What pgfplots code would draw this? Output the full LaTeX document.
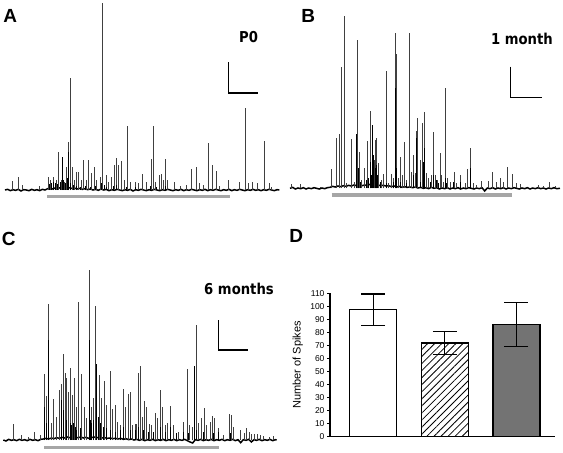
\documentclass[border=0pt]{standalone}
\usepackage{pgfplots}
\pgfplotsset{compat=1.18}
\usetikzlibrary{patterns.meta}
\usepackage{fontspec}
\setmainfont{Liberation Sans}
\newfontfamily\vfont[FakeStretch=0.88]{DejaVu Sans}
\definecolor{bargray}{RGB}{115,115,115}
\definecolor{stimgray}{RGB}{166,166,166}
\newcommand{\panelfont}{\bfseries\fontsize{19}{22}\selectfont}
\newcommand{\condfont}{\vfont\bfseries\fontsize{15}{18}\selectfont}
\pgfplotsset{
  trace/.style={scale only axis, hide axis, clip=false},
  thin spike/.style={ycomb, black!75, line width=0.55pt, mark=none},
  thick spike/.style={ycomb, black, line width=0.9pt, mark=none},
  baseline/.style={black, line width=1.5pt, mark=none},
}
\begin{document}
\begin{tikzpicture}
%% ---------------- Panel A ----------------
\begin{axis}[trace, at={(0pt,-200pt)}, anchor=south west,
  width=280pt, height=200pt, xmin=0, xmax=840, ymin=-30, ymax=570]
\addplot[baseline] coordinates {(15,0)(23,2)(31,-2)(39,1)(47,-1)(55,2)(63,-3)(71,1)(79,0)(87,-2)(95,2)(103,-1)(111,1)(119,-2)(127,2)(135,0)(143,4)(151,6)(159,3)(167,7)(175,5)(183,8)(191,6)(199,9)(207,7)(215,5)(223,6)(231,3)(239,5)(247,2)(255,4)(263,1)(271,3)(279,0)(287,2)(295,-1)(303,3)(311,0)(319,2)(327,-2)(335,1)(343,-1)(351,2)(359,0)(367,-2)(375,1)(383,-1)(391,2)(399,-3)(407,1)(415,-1)(423,2)(431,0)(439,-2)(447,1)(455,-1)(463,2)(471,0)(479,-2)(487,1)(495,-1)(503,2)(511,0)(519,-2)(527,1)(535,-1)(543,2)(551,-2)(559,1)(567,-1)(575,2)(583,0)(591,-2)(599,1)(607,-1)(615,2)(623,-2)(631,1)(639,-1)(647,2)(655,0)(663,-2)(671,1)(679,-1)(687,2)(695,-2)(703,1)(711,-1)(719,2)(727,0)(735,-2)(743,1)(751,-1)(759,2)(767,-1)(775,1)(783,-2)(791,1)(799,-1)(807,2)(815,0)(823,-2)(831,1)(838,0)};
\addplot[thin spike] coordinates {(38,27)(55,40)(68,15)(118,12)(145,40)(150,30)(160,40)(168,30)(175,113)(183,30)(193,25)(200,70)(205,145)(210,337)(217,70)(222,30)(230,55)(236,55)(243,30)(250,90)(258,30)(266,90)(275,50)(283,68)(290,30)(300,40)(308,560)(318,45)(325,25)(333,40)(342,75)(348,95)(355,75)(363,87)(373,30)(382,193)(390,25)(407,25)(414,22)(428,48)(440,25)(453,93)(459,192)(466,25)(478,45)(483,48)(490,30)(497,92)(503,30)(524,25)(540,12)(560,15)(575,63)(590,68)(598,22)(610,15)(625,140)(637,75)(648,58)(658,12)(685,30)(718,25)(735,247)(745,20)(758,23)(772,20)(792,147)(808,20)(815,10)};
\addplot[thick spike] coordinates {(187,98)(205,113)(160,25)(148,18)(155,20)(165,22)(172,18)(180,25)(190,30)(197,22)(203,35)(212,20)(220,15)(228,12)(240,10)(255,12)(270,10)(285,12)(305,20)(312,15)(320,10)(340,12)(350,15)(380,10)(405,10)(450,12)(470,10)(495,12)};
\draw[stimgray, line width=3.2pt] (axis cs:141,-20) -- (axis cs:690,-20);
\draw[black, line width=1.3pt] (axis cs:685,384) -- (axis cs:685,291) -- (axis cs:775,291);
\node[font=\panelfont] at (axis cs:31,521) {A};
\node[font=\condfont] at (axis cs:746,458) {P0};
\end{axis}
%% ---------------- Panel B ----------------
\begin{axis}[trace, at={(280pt,-200pt)}, anchor=south west,
  width=283pt, height=200pt, xmin=0, xmax=849, ymin=-35, ymax=565]
\addplot[baseline] coordinates {(30,0)(38,3)(46,-2)(54,1)(62,-1)(70,2)(78,-2)(86,1)(94,-1)(102,2)(110,0)(118,-2)(126,1)(134,-1)(142,2)(150,3)(158,6)(166,4)(174,7)(182,5)(190,8)(198,6)(206,9)(214,7)(222,10)(230,8)(238,11)(246,8)(254,10)(262,9)(270,12)(278,10)(286,13)(294,10)(302,8)(310,9)(318,7)(326,8)(334,5)(342,7)(350,4)(358,6)(366,3)(374,5)(382,3)(390,4)(398,2)(406,4)(414,1)(422,3)(430,0)(438,2)(446,-1)(454,3)(462,0)(470,2)(478,-2)(486,1)(494,-1)(502,2)(510,-2)(518,1)(526,-1)(534,2)(542,-2)(550,1)(558,-1)(566,2)(574,0)(582,-2)(590,1)(598,-1)(606,2)(614,-8)(622,1)(630,-1)(638,2)(646,-2)(654,1)(662,-1)(670,2)(678,-2)(686,1)(694,-1)(702,2)(710,0)(718,-2)(726,1)(734,-1)(742,2)(750,-2)(758,1)(766,-1)(774,2)(782,-1)(790,1)(798,-2)(806,1)(814,-1)(822,2)(830,-1)(840,0)};
\addplot[thin spike] coordinates {(35,12)(62,12)(120,5)(155,57)(168,152)(178,162)(185,363)(193,517)(200,17)(213,147)(222,20)(233,445)(238,110)(245,25)(253,60)(263,142)(271,232)(283,85)(287,145)(290,150)(296,75)(305,25)(310,43)(318,352)(325,17)(333,42)(340,30)(346,465)(350,402)(355,30)(362,95)(368,40)(373,138)(380,25)(388,467)(393,50)(400,100)(405,45)(410,172)(413,212)(420,85)(428,197)(433,230)(438,45)(445,30)(455,40)(461,170)(467,40)(473,25)(480,105)(485,40)(490,20)(497,302)(503,30)(510,20)(522,50)(530,15)(540,40)(555,17)(563,57)(572,120)(580,17)(590,10)(603,22)(625,22)(636,50)(648,20)(660,32)(670,20)(681,65)(697,43)(710,17)(722,12)(745,5)(775,10)(790,8)(808,20)(825,7)};
\addplot[thick spike] coordinates {(230,162)(277,190)(346,300)(410,150)(433,120)(270,80)(280,100)(288,70)(275,40)(285,60)(292,40)(265,30)(258,25)(235,60)(228,40)(350,60)(400,40)(430,80)(460,40)(470,25)(495,30)(520,20)(572,60)(540,20)(240,20)(300,20)(320,15)(340,20)(360,20)(380,15)(420,20)(450,20)(475,15)(500,15)};
\draw[stimgray, line width=3.2pt] (axis cs:155,-20) -- (axis cs:695,-20);
\draw[black, line width=1.3pt] (axis cs:692,365) -- (axis cs:692,272) -- (axis cs:785,272);
\node[font=\panelfont] at (axis cs:85,518) {B};
\node[font=\condfont] at (axis cs:726,447) {1 month};
\end{axis}
%% ---------------- Panel C ----------------
\begin{axis}[trace, at={(0pt,-453pt)}, anchor=south west,
  width=290pt, height=228pt, xmin=0, xmax=870, ymin=-39, ymax=645]
\addplot[baseline] coordinates {(10,0)(18,-3)(26,2)(34,-1)(42,1)(50,-2)(58,2)(66,-1)(74,1)(82,-2)(90,2)(98,-1)(106,1)(114,-2)(122,2)(130,3)(138,5)(146,3)(154,6)(162,4)(170,7)(178,5)(186,8)(194,6)(202,9)(210,7)(218,10)(226,8)(234,7)(242,9)(250,6)(258,8)(266,5)(274,7)(282,9)(290,7)(298,8)(306,6)(314,7)(322,5)(330,6)(338,4)(346,5)(354,3)(362,5)(370,2)(378,4)(386,1)(394,3)(402,0)(410,2)(418,-1)(426,2)(434,-2)(442,1)(450,-1)(458,2)(466,-2)(474,1)(482,-1)(490,2)(498,-2)(506,1)(514,-1)(522,2)(530,-2)(538,1)(546,-1)(554,2)(562,-2)(570,-6)(578,-9)(586,1)(594,-1)(602,2)(610,-2)(618,1)(626,-1)(634,2)(642,-2)(650,1)(658,-1)(666,2)(674,-2)(682,1)(690,-1)(698,2)(706,-2)(714,1)(722,-8)(730,1)(738,-1)(746,2)(754,-6)(762,1)(770,-1)(778,2)(786,-2)(794,1)(802,-1)(810,2)(818,-2)(826,1)(830,0)};
\addplot[thin spike] coordinates {(40,48)(63,15)(85,10)(103,25)(120,15)(133,197)(138,132)(146,408)(153,50)(160,122)(168,68)(178,150)(185,167)(190,258)(196,200)(200,185)(205,145)(212,215)(218,135)(222,187)(228,100)(236,413)(244,198)(252,100)(258,65)(268,510)(274,100)(280,127)(286,403)(298,195)(305,125)(312,177)(318,105)(330,208)(337,92)(345,105)(352,55)(360,45)(370,152)(377,100)(385,138)(390,145)(398,45)(405,47)(410,47)(415,202)(420,223)(428,70)(433,117)(440,100)(447,47)(455,45)(465,80)(473,65)(480,150)(487,100)(495,45)(503,50)(512,102)(520,45)(535,25)(550,55)(562,212)(567,45)(576,40)(588,345)(595,50)(603,65)(612,97)(620,45)(630,55)(638,73)(643,67)(655,37)(670,15)(687,77)(693,75)(700,40)(722,30)(732,20)(740,35)(748,25)(755,17)(763,17)(772,17)(782,15)(790,12)(808,10)(820,13)};
\addplot[thick spike] coordinates {(146,300)(290,227)(583,222)(268,300)(133,100)(140,50)(185,120)(190,90)(200,60)(210,50)(215,45)(220,50)(225,40)(230,30)(240,35)(270,60)(275,50)(280,60)(295,70)(300,50)(310,40)(320,35)(330,30)(345,25)(360,30)(370,40)(390,30)(405,30)(415,40)(430,30)(445,25)(460,25)(480,40)(495,25)(512,40)(530,20)(550,25)(565,20)(590,30)(610,25)(640,20)(655,25)(690,20)};
\draw[stimgray, line width=3.2pt] (axis cs:133,-23) -- (axis cs:657,-23);
\draw[black, line width=1.3pt] (axis cs:655,360) -- (axis cs:655,270) -- (axis cs:743,270);
\node[font=\panelfont] at (axis cs:26,603) {C};
\node[font=\condfont] at (axis cs:717,453) {6 months};
\end{axis}
%% ---------------- Panel D ----------------
\begin{axis}[at={(330pt,-436.7pt)}, anchor=south west, scale only axis,
  width=225pt, height=143.4pt, xmin=0.396, xmax=3.539, ymin=0, ymax=110,
  clip=false,
  axis x line*=bottom, axis y line*=left,
  axis line style={-, line width=1.4pt},
  xtick=\empty, ytick={0,10,...,110},
  tick align=outside, major tick length=3pt,
  ytick style={line width=1pt, black},
  /pgf/number format/assume math mode=true,
  yticklabel style={font=\fontsize{8.5}{10}\selectfont, xshift=1pt},
  ylabel={Number of Spikes},
  ylabel style={font=\fontsize{11}{13}\selectfont, at={(axis description cs:-0.105,0.5)}},
  ybar, bar width=47pt, bar shift=0pt,
  error bars/y dir=both, error bars/y explicit,
  error bars/error bar style={line width=1.2pt, black},
  error bars/error mark options={rotate=90, mark size=12pt, line width=1.2pt, black},
]
\addplot[draw=black, fill=white, line width=1.5pt] coordinates {(1,97.5) +- (0,12)};
\addplot[draw=black, line width=1.5pt, pattern={Lines[angle=45, distance=5pt, line width=0.8pt]}] coordinates {(2,72) +- (0,9)};
\addplot[draw=black, fill=bargray, line width=1.5pt] coordinates {(3,86) +- (0,17)};
\node[font=\panelfont] at (axis cs:-0.075,154) {D};
\end{axis}
\pgfresetboundingbox
\path[use as bounding box] (0pt,0pt) rectangle (563pt,-453pt);
\end{tikzpicture}
\end{document}
